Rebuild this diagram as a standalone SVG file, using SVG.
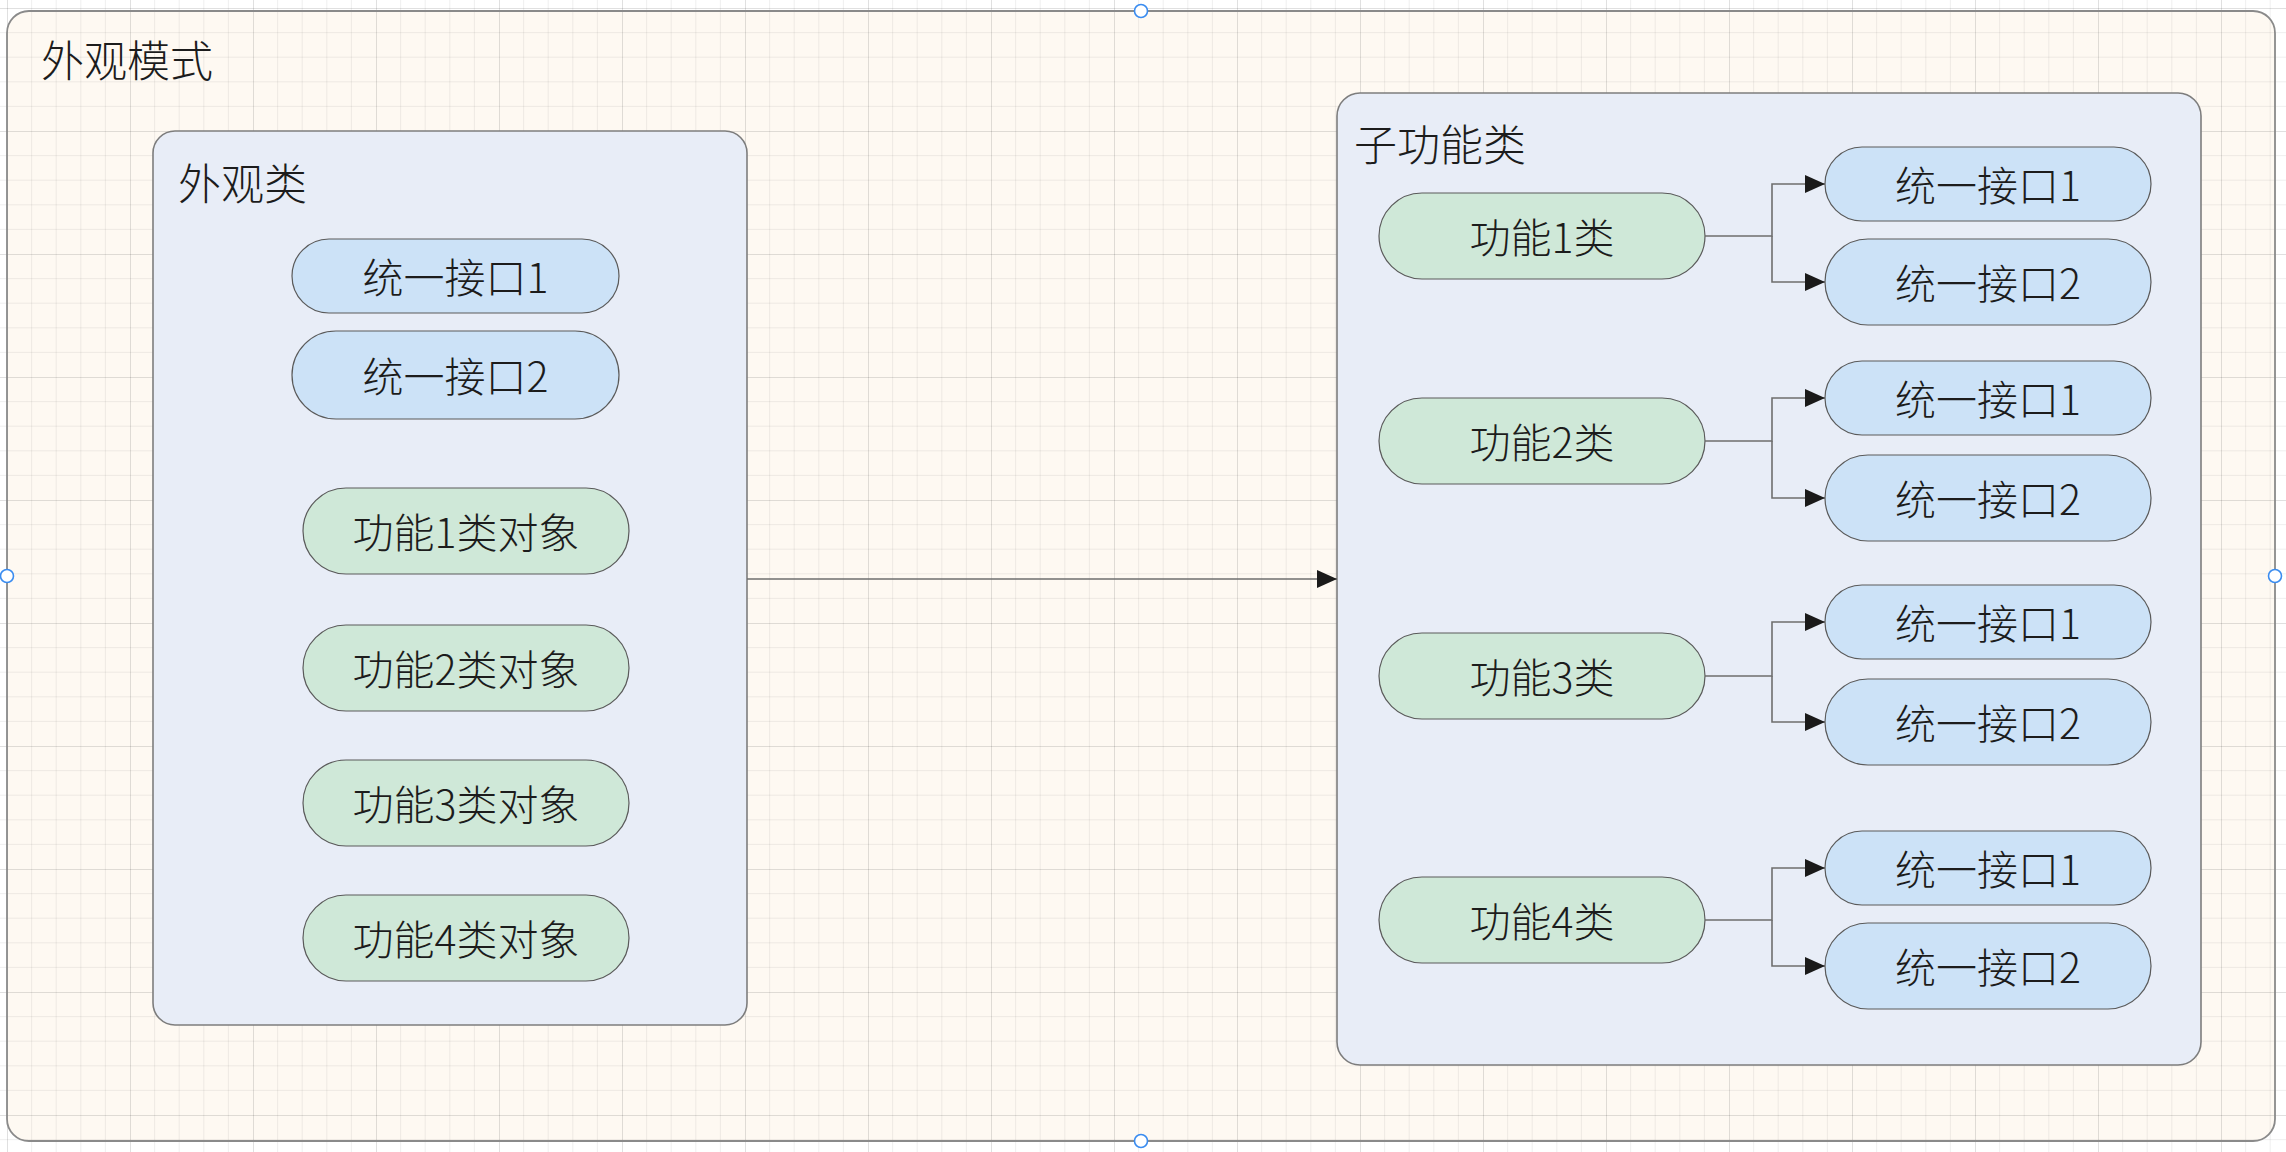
<svg xmlns="http://www.w3.org/2000/svg" width="2286" height="1152" viewBox="0 0 2286 1152">
<style>
text{font-family:"Noto Sans CJK SC","Noto Sans",sans-serif;fill:#1c1c1c;font-weight:300}
.title{font-size:43px}
.lbl{font-size:41px;text-anchor:middle}
.box{fill:#e8edf7;stroke:#7d7d7d;stroke-width:1.6}
.blue{fill:#cce2f7;stroke:#5a5a5a;stroke-width:1.2}
.green{fill:#cfe8d8;stroke:#5a5a5a;stroke-width:1.2}
.conn{fill:none;stroke:#6e6e6e;stroke-width:1.6}
.handle{fill:#fff;stroke:#3a8cf0;stroke-width:1.6}
</style>
<defs>
<pattern id="grid" patternUnits="userSpaceOnUse" x="7" y="8" width="123" height="123">
<path d="M24.6 0V123M49.2 0V123M73.8 0V123M98.4 0V123M0 24.6H123M0 49.2H123M0 73.8H123M0 98.4H123" stroke="#000" stroke-opacity="0.06" stroke-width="1" fill="none"/>
<path d="M0.5 0V123M0 0.5H123" stroke="#000" stroke-opacity="0.12" stroke-width="1" fill="none"/>
</pattern>
<marker id="arrow" markerUnits="userSpaceOnUse" markerWidth="20" markerHeight="18" refX="20" refY="9" orient="auto">
<path d="M0 0L20 9L0 18Z" fill="#1a1a1a"/>
</marker>
</defs>
<rect x="0" y="0" width="2286" height="1152" fill="#ffffff"/>
<rect x="7" y="11" width="2268" height="1130" rx="22" fill="#fef9f2"/>
<rect x="0" y="0" width="2286" height="1152" fill="url(#grid)"/>
<g id="facade-pattern">
<rect x="7" y="11" width="2268" height="1130" rx="22" fill="none" stroke="#8a8a8a" stroke-width="1.8"/>
<text class="title" x="41" y="77">外观模式</text>
<circle class="handle" cx="1141" cy="11" r="6.5"/>
<circle class="handle" cx="1141" cy="1141" r="6.5"/>
<circle class="handle" cx="7" cy="576" r="6.5"/>
<circle class="handle" cx="2275" cy="576" r="6.5"/>
</g>
<g id="facade-class">
<rect class="box" x="153" y="131" width="594" height="894" rx="22"/>
<text class="title" x="178" y="200">外观类</text>
</g>
<g id="facade-if1"><rect class="blue" x="292" y="239" width="327" height="74" rx="37"/><text class="lbl" x="455.5" y="293">统一接口1</text></g>
<g id="facade-if2"><rect class="blue" x="292" y="331" width="327" height="88" rx="44"/><text class="lbl" x="455.5" y="392">统一接口2</text></g>
<g id="obj1"><rect class="green" x="303" y="488" width="326" height="86" rx="43"/><text class="lbl" x="466" y="548">功能1类对象</text></g>
<g id="obj2"><rect class="green" x="303" y="625" width="326" height="86" rx="43"/><text class="lbl" x="466" y="685">功能2类对象</text></g>
<g id="obj3"><rect class="green" x="303" y="760" width="326" height="86" rx="43"/><text class="lbl" x="466" y="820">功能3类对象</text></g>
<g id="obj4"><rect class="green" x="303" y="895" width="326" height="86" rx="43"/><text class="lbl" x="466" y="955">功能4类对象</text></g>
<g id="sub-classes">
<rect class="box" x="1337" y="93" width="864" height="972" rx="23"/>
<text class="title" x="1354" y="161">子功能类</text>
</g>
<g id="f1"><rect class="green" x="1379" y="193" width="326" height="86" rx="43"/><text class="lbl" x="1542" y="253">功能1类</text></g>
<g id="f2"><rect class="green" x="1379" y="398" width="326" height="86" rx="43"/><text class="lbl" x="1542" y="458">功能2类</text></g>
<g id="f3"><rect class="green" x="1379" y="633" width="326" height="86" rx="43"/><text class="lbl" x="1542" y="693">功能3类</text></g>
<g id="f4"><rect class="green" x="1379" y="877" width="326" height="86" rx="43"/><text class="lbl" x="1542" y="937">功能4类</text></g>
<g id="f1-if1"><rect class="blue" x="1825" y="147" width="326" height="74" rx="37"/><text class="lbl" x="1988" y="201">统一接口1</text></g>
<g id="f1-if2"><rect class="blue" x="1825" y="239" width="326" height="86" rx="43"/><text class="lbl" x="1988" y="299">统一接口2</text></g>
<g id="f2-if1"><rect class="blue" x="1825" y="361" width="326" height="74" rx="37"/><text class="lbl" x="1988" y="415">统一接口1</text></g>
<g id="f2-if2"><rect class="blue" x="1825" y="455" width="326" height="86" rx="43"/><text class="lbl" x="1988" y="515">统一接口2</text></g>
<g id="f3-if1"><rect class="blue" x="1825" y="585" width="326" height="74" rx="37"/><text class="lbl" x="1988" y="639">统一接口1</text></g>
<g id="f3-if2"><rect class="blue" x="1825" y="679" width="326" height="86" rx="43"/><text class="lbl" x="1988" y="739">统一接口2</text></g>
<g id="f4-if1"><rect class="blue" x="1825" y="831" width="326" height="74" rx="37"/><text class="lbl" x="1988" y="885">统一接口1</text></g>
<g id="f4-if2"><rect class="blue" x="1825" y="923" width="326" height="86" rx="43"/><text class="lbl" x="1988" y="983">统一接口2</text></g>
<g id="connectors">
<path class="conn" d="M747 579H1337" marker-end="url(#arrow)"/>
<path class="conn" d="M1705 236H1772V184H1825" marker-end="url(#arrow)"/>
<path class="conn" d="M1772 236V282H1825" marker-end="url(#arrow)"/>
<path class="conn" d="M1705 441H1772V398H1825" marker-end="url(#arrow)"/>
<path class="conn" d="M1772 441V498H1825" marker-end="url(#arrow)"/>
<path class="conn" d="M1705 676H1772V622H1825" marker-end="url(#arrow)"/>
<path class="conn" d="M1772 676V722H1825" marker-end="url(#arrow)"/>
<path class="conn" d="M1705 920H1772V868H1825" marker-end="url(#arrow)"/>
<path class="conn" d="M1772 920V966H1825" marker-end="url(#arrow)"/>
</g>
</svg>
